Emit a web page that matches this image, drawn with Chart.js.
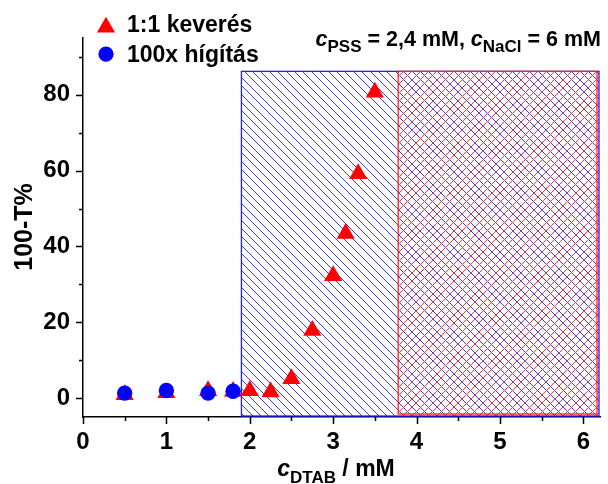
<!DOCTYPE html>
<html>
<head>
<meta charset="utf-8">
<script src="https://cdn.jsdelivr.net/npm/chart.js@4/dist/chart.umd.min.js"></script>
<style>
  body { margin: 0; background: #fff; }
</style>
</head>
<body>
<canvas id="chart" width="608" height="484"></canvas>
<script>
// data
const mixX = [0.5, 1, 1.5, 1.8, 2, 2.25, 2.5, 2.75, 3, 3.15, 3.3, 3.5];
const mixY = [0.9, 1.4, 1.9, 1.7, 1.9, 1.6, 5.1, 17.8, 32.3, 43.4, 59.2, 80.7];
const dilX = [0.5, 1, 1.5, 1.8];
const dilY = [1.3, 2.0, 1.3, 1.8];
const seriesNames = ["1:1 keverés", "100x hígítás"];

const xTicks = [0, 1, 2, 3, 4, 5, 6];
const yTicks = [0, 20, 40, 60, 80];

// shaded ranges (x in mM, top in %)
const blueFrom = 1.9;
const redFrom = 3.78;
const shadeTo = 6.2;
const shadeTop = 86.2;

const FONT = "'Liberation Sans', Arial, sans-serif";

function toPoints(xs, ys) {
  return xs.map((x, i) => ({ x: x, y: ys[i] }));
}

// crisp 45 degree hatch lines, drawn pixel by pixel
function hatch(ctx, l, t, r, b, dir, gap, offset, color) {
  l = Math.round(l); t = Math.round(t); r = Math.round(r); b = Math.round(b);
  const h = b - t;
  ctx.save();
  ctx.fillStyle = color;
  const start = Math.floor((l - h - offset) / gap) * gap + offset;
  for (let c = start; c < r + h; c += gap) {
    const c0 = Math.round(c);
    for (let k = 0; k < h; k++) {
      const px = c0 + k;
      if (px < l || px >= r) continue;
      const py = dir === "\\" ? t + k : b - 1 - k;
      ctx.fillRect(px, py, 1, 1);
    }
  }
  ctx.restore();
}

const shadePlugin = {
  id: "shade",
  beforeDatasetsDraw(chart) {
    const { ctx, scales: { x, y } } = chart;
    const x0 = x.getPixelForValue(blueFrom);
    const x1 = x.getPixelForValue(redFrom);
    const x2 = x.getPixelForValue(shadeTo) - 1;
    const yt = y.getPixelForValue(shadeTop);
    const yb = y.getPixelForValue(y.min) - 1;

    hatch(ctx, x0, yt, x2, yb, "\\", 8.4, 0, "#3a3aff");
    hatch(ctx, x1, yt, x2, yb, "/", 8.4, 0, "#ff3a3a");

    ctx.save();
    ctx.lineWidth = 1.3;
    ctx.strokeStyle = "#2020ff";
    ctx.strokeRect(x0, yt, x2 - x0, yb - yt);
    ctx.strokeStyle = "#ff2020";
    ctx.strokeRect(x1, yt, x2 - x1 - 2, yb - yt - 2);
    ctx.restore();
  },
  afterDraw(chart) {
    const { ctx, scales: { x, y }, chartArea } = chart;
    ctx.save();
    ctx.strokeStyle = "#000";
    ctx.lineWidth = 1.5;
    ctx.beginPath();
    // x ticks, majors and the halves between them
    for (let v = 0; v <= 6; v += 0.5) {
      const px = Math.round(x.getPixelForValue(v)) + 0.5;
      const len = Number.isInteger(v) ? 7 : 4;
      ctx.moveTo(px, chartArea.bottom);
      ctx.lineTo(px, chartArea.bottom + len);
    }
    for (let v = 0; v <= 90; v += 10) {
      const py = Math.round(y.getPixelForValue(v)) + 0.5;
      const len = v % 20 === 0 ? 7 : 4;
      ctx.moveTo(chartArea.left, py);
      ctx.lineTo(chartArea.left - len, py);
    }
    ctx.stroke();

    ctx.fillStyle = "#000";

    // y title
    ctx.save();
    ctx.translate(31.5, 227);
    ctx.rotate(-Math.PI / 2);
    ctx.font = "bold 25px " + FONT;
    ctx.textAlign = "center";
    ctx.textBaseline = "alphabetic";
    ctx.fillText("100-T%", 0, 0);
    ctx.restore();

    // x title: c_DTAB / mM
    drawRich(ctx, [
      { t: "c", f: "italic bold 23px " + FONT, dy: 0 },
      { t: "DTAB", f: "bold 17px " + FONT, dy: 7 },
      { t: " / mM", f: "bold 23px " + FONT, dy: 0 }
    ], 336, 476, "center");

    // condition note
    drawRich(ctx, [
      { t: "c", f: "italic bold 21.5px " + FONT, dy: 0 },
      { t: "PSS", f: "bold 17px " + FONT, dy: 6 },
      { t: " = 2,4 mM, ", f: "bold 21.5px " + FONT, dy: 0 },
      { t: "c", f: "italic bold 21.5px " + FONT, dy: 0 },
      { t: "NaCl", f: "bold 17px " + FONT, dy: 6 },
      { t: " = 6 mM", f: "bold 21.5px " + FONT, dy: 0 }
    ], 601, 46, "right");

    // legend
    const ds = chart.data.datasets;
    ctx.fillStyle = "#ff0000";
    ctx.beginPath();
    ctx.moveTo(106, 16.7);
    ctx.lineTo(106 + 9.1, 32.5);
    ctx.lineTo(106 - 9.1, 32.5);
    ctx.closePath();
    ctx.fill();
    ctx.fillStyle = "#0000ff";
    ctx.beginPath();
    ctx.arc(106, 54.2, 7.6, 0, Math.PI * 2);
    ctx.fill();
    ctx.fillStyle = "#000";
    ctx.font = "bold 23px " + FONT;
    ctx.textAlign = "left";
    ctx.textBaseline = "alphabetic";
    ctx.fillText(ds[0].label, 127, 32);
    ctx.fillText(ds[1].label, 127, 62);
    ctx.restore();
  }
};

function drawRich(ctx, parts, x, baseY, align) {
  let total = 0;
  parts.forEach(p => { ctx.font = p.f; p.w = ctx.measureText(p.t).width; total += p.w; });
  let cx = align === "center" ? x - total / 2 : align === "right" ? x - total : x;
  ctx.textAlign = "left";
  ctx.textBaseline = "alphabetic";
  parts.forEach(p => {
    ctx.font = p.f;
    ctx.fillText(p.t, cx, baseY + p.dy);
    cx += p.w;
  });
}

const ctx = document.getElementById("chart").getContext("2d");
const chart = new Chart(ctx, {
  type: "scatter",
  data: {
    datasets: [
      {
        label: seriesNames[0],
        data: toPoints(mixX, mixY),
        pointStyle: "triangle",
        pointRadius: 10.5,
        pointBorderWidth: 0,
        backgroundColor: "#ff0000",
        borderColor: "#ff0000",
        order: 1
      },
      {
        label: seriesNames[1],
        data: toPoints(dilX, dilY),
        pointStyle: "circle",
        pointRadius: 7.7,
        pointBorderWidth: 0,
        backgroundColor: "#0000ff",
        borderColor: "#0000ff",
        order: 0
      }
    ]
  },
  options: {
    responsive: false,
    animation: false,
    events: [],
    layout: { autoPadding: false, padding: { top: 38, right: 8, left: 0, bottom: 0 } },
    plugins: {
      legend: { display: false },
      tooltip: { enabled: false }
    },
    scales: {
      x: {
        type: "linear",
        min: 0,
        max: 6.2,
        afterBuildTicks: s => { s.ticks = xTicks.map(v => ({ value: v })); },
        afterFit: s => { s.height = 67; },
        ticks: {
          color: "#000",
          font: { family: FONT, size: 24, weight: "bold" },
          padding: 4,
          maxRotation: 0,
          autoSkip: false
        },
        grid: { color: "rgba(0,0,0,0)", drawOnChartArea: false, tickLength: 7 },
        border: { color: "#000", width: 1.5 }
      },
      y: {
        min: -5,
        max: 95,
        afterBuildTicks: s => { s.ticks = yTicks.map(v => ({ value: v })); },
        afterFit: s => { s.width = 83; },
        ticks: {
          color: "#000",
          font: { family: FONT, size: 24, weight: "bold" },
          padding: 6
        },
        grid: { color: "rgba(0,0,0,0)", drawOnChartArea: false, tickLength: 7 },
        border: { color: "#000", width: 1.5 }
      }
    }
  },
  plugins: [shadePlugin]
});
</script>
</body>
</html>
